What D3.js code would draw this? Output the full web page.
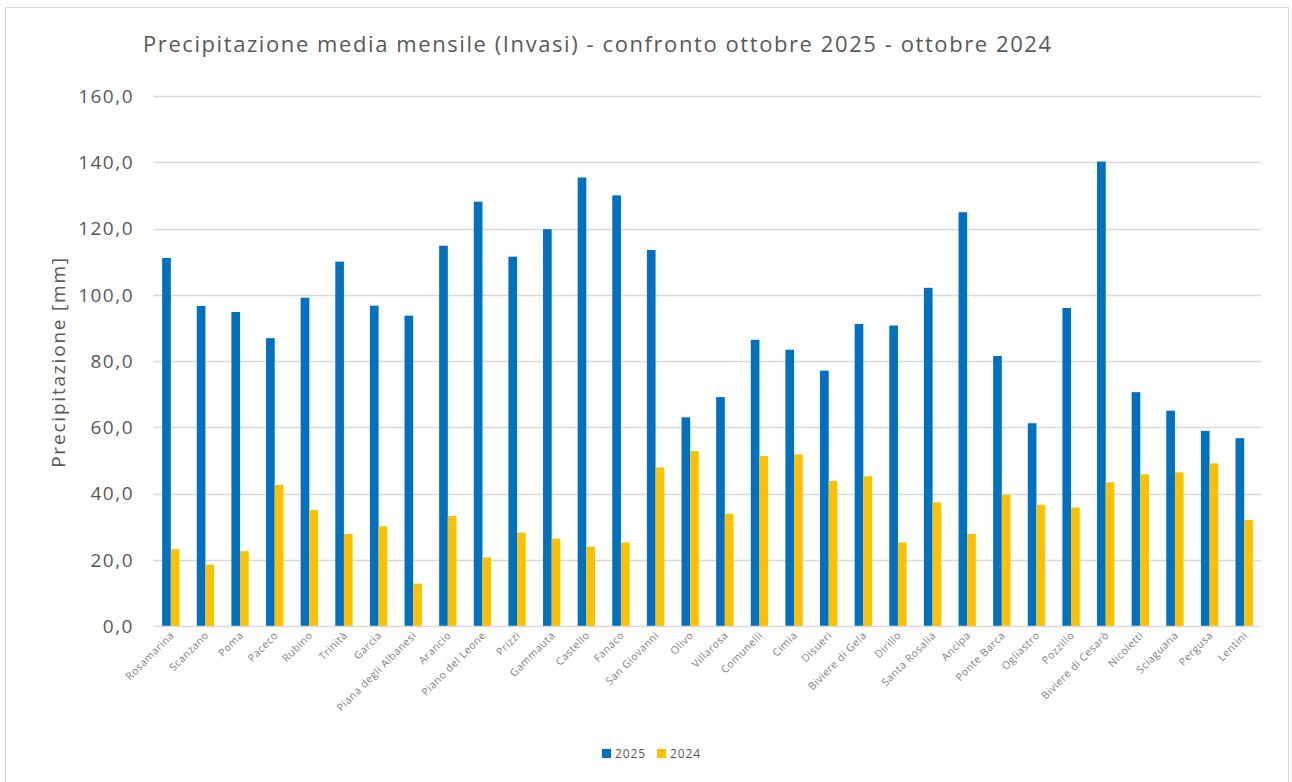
<!DOCTYPE html>
<html><head><meta charset="utf-8">
<script src="https://cdn.jsdelivr.net/npm/d3@7"></script>
<style>body{margin:0;background:#fff;} svg{display:block;} text{font-family:"Open Sans",sans-serif;}</style>
</head><body>
<svg id="c" width="1292" height="782"></svg>
<script>
const categories = ["Rosamarina","Scanzano","Poma","Paceco","Rubino","Trinità","Garcia","Piana degli Albanesi","Arancio","Piano del Leone","Prizzi","Gammauta","Castello","Fanaco","San Giovanni","Olivo","Villarosa","Comunelli","Cimia","Disueri","Biviere di Gela","Dirillo","Santa Rosalia","Ancipa","Ponte Barca","Ogliastro","Pozzillo","Biviere di Cesarò","Nicoletti","Sciaguana","Pergusa","Lentini"];
const values2025 = [111.1,96.6,94.8,86.9,99.1,110.0,96.7,93.7,114.8,128.1,111.5,119.8,135.4,130.0,113.5,63.0,69.1,86.4,83.4,77.1,91.2,90.7,102.1,124.9,81.5,61.2,96.0,140.2,70.6,65.0,58.9,56.7];
const values2024 = [23.2,18.5,22.6,42.6,35.0,27.8,30.1,12.8,33.2,20.7,28.2,26.4,24.0,25.2,47.9,52.8,33.9,51.3,51.8,43.8,45.2,25.2,37.3,27.8,39.6,36.6,35.8,43.4,45.8,46.4,49.1,32.0];
const seriesNames = ["2025","2024"];
const colors = ["#0070c0","#ffc000"];
const yTicks = [0,20,40,60,80,100,120,140,160];
const title = "Precipitazione media mensile (Invasi) - confronto ottobre 2025 - ottobre 2024";
const yTitle = "Precipitazione [mm]";

const svg = d3.select("#c");
svg.append("rect").attr("x",5.5).attr("y",7.5).attr("width",1283).attr("height",790)
  .attr("fill","#fff").attr("stroke","#d9d9d9");

const x0 = d3.scaleBand().domain(categories).range([153.5,1261.5]);
const xs = d3.scaleBand().domain(seriesNames).range([0,x0.bandwidth()]).paddingInner(0).paddingOuter(1);
const y = d3.scaleLinear().domain([0,160]).range([626,96]);

// grid
svg.append("g").selectAll("line").data(yTicks.slice(1)).join("line")
  .attr("x1",153.5).attr("x2",1261.5).attr("y1",d=>Math.round(y(d))+0.5).attr("y2",d=>Math.round(y(d))+0.5)
  .attr("stroke","#d9d9d9").attr("stroke-width",1.3);

// y labels
svg.append("g").selectAll("text").data(yTicks).join("text")
  .attr("x",134).attr("y",d=>y(d)).attr("dy","0.36em").attr("text-anchor","end")
  .attr("font-size",19).attr("letter-spacing",1.5).attr("fill","#595959").text(d=>d3.format(".1f")(d).replace(".",","));

// bars
const g = svg.append("g");
const series = [values2025, values2024];
series.forEach((vals,si)=>{
  g.selectAll(null).data(categories).join("rect")
    .attr("x",d=>x0(d)+xs(seriesNames[si]))
    .attr("width",xs.bandwidth())
    .attr("y",(d,i)=>y(vals[i]))
    .attr("height",(d,i)=>y(0)-y(vals[i]))
    .attr("fill",colors[si]);
});

// axis line
svg.append("line").attr("x1",153.5).attr("x2",1261.5).attr("y1",626.5).attr("y2",626.5)
  .attr("stroke","#d9d9d9").attr("stroke-width",1.3);

// x labels
svg.append("g").selectAll("text").data(categories).join("text")
  .attr("transform",d=>`translate(${x0(d)+x0.bandwidth()/2+4},${636}) rotate(-45)`)
  .attr("text-anchor","end").attr("font-size",10.5).attr("letter-spacing",0.5).attr("fill","#7f7f7f").text(d=>d);

// title
svg.append("text").attr("x",143).attr("y",52).attr("font-size",22).attr("letter-spacing",1.58).attr("fill","#595959").text(title);

// y title
svg.append("text").attr("transform","translate(65,362) rotate(-90)").attr("text-anchor","middle")
  .attr("font-size",19).attr("letter-spacing",1.8).attr("fill","#595959").text(yTitle);

// legend
const leg = svg.append("g");
const legX = [602,657];
seriesNames.forEach((s,i)=>{
  leg.append("rect").attr("x",legX[i]).attr("y",749).attr("width",9).attr("height",9).attr("fill",colors[i]);
  leg.append("text").attr("x",legX[i]+13).attr("y",753.5).attr("dy","0.36em").attr("font-size",12).attr("letter-spacing",0.9).attr("fill","#595959").text(s);
});
</script>
</body></html>
